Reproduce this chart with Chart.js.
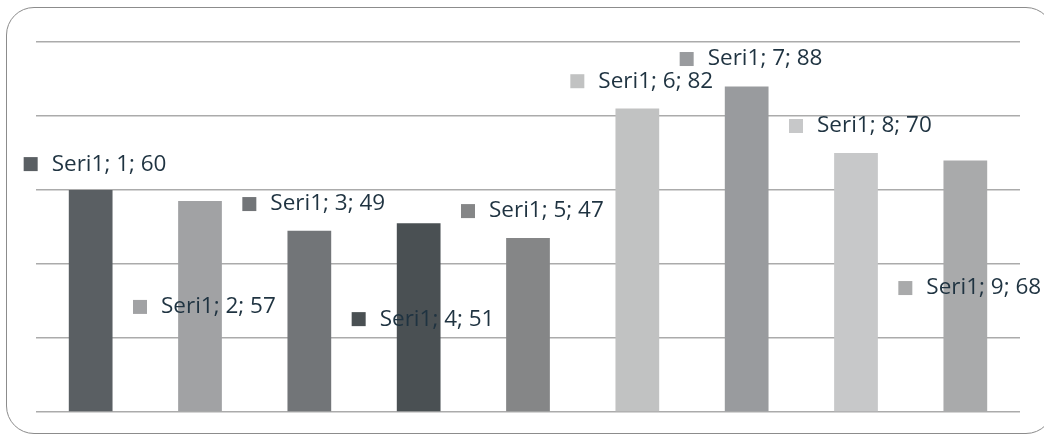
<!DOCTYPE html>
<html>
<head>
<meta charset="utf-8">
<script src="https://cdn.jsdelivr.net/npm/chart.js@4/dist/chart.umd.min.js"></script>
<style>
  html, body { margin: 0; padding: 0; background: #ffffff; }
  #wrap { position: relative; width: 1044px; height: 435px; overflow: hidden; }
  #frame { position: absolute; left: 6px; top: 7px; width: 1048px; height: 427px;
           border: 1px solid #8c8c8c; border-radius: 28px; box-sizing: border-box; }
  canvas { position: absolute; left: 0; top: 0; }
</style>
</head>
<body>
<div id="wrap">
  <div id="frame"></div>
  <canvas id="c" width="1044" height="435"></canvas>
</div>
<script>
const seriesName = "Seri1";
const categories = ["1", "2", "3", "4", "5", "6", "7", "8", "9"];
const values = [60, 57, 49, 51, 47, 82, 88, 70, 68];
const barColors = ["#5a5f63", "#a1a2a4", "#727578", "#4a5053", "#858687", "#c1c2c2", "#999b9e", "#c7c8c9", "#a9aaab"];
// vertical anchor of each data label, in axis units (labels are placed loosely as in the original)
const labelLevels = [67.0, 28.4, 56.2, 25.1, 54.3, 89.4, 95.4, 77.3, 33.5];

const labelPlugin = {
  id: 'looseLabels',
  afterDatasetsDraw(chart) {
    const ctx = chart.ctx;
    const meta = chart.getDatasetMeta(0);
    const y = chart.scales.y;
    ctx.save();
    ctx.font = '22.5px "Open Sans", sans-serif';
    ctx.textBaseline = 'middle';
    ctx.textAlign = 'left';
    meta.data.forEach((bar, i) => {
      const cy = y.getPixelForValue(labelLevels[i]);
      const sx = bar.x - 67;
      ctx.fillStyle = barColors[i];
      ctx.fillRect(sx, cy - 7, 14, 14);
      ctx.fillStyle = '#1f3341';
      ctx.fillText(seriesName + '; ' + categories[i] + '; ' + values[i], sx + 28, cy);
    });
    ctx.restore();
  }
};

new Chart(document.getElementById('c'), {
  type: 'bar',
  data: {
    labels: categories,
    datasets: [{
      label: seriesName,
      data: values,
      backgroundColor: barColors,
      borderWidth: 0,
      categoryPercentage: 1.0,
      barPercentage: 0.4
    }]
  },
  options: {
    responsive: false,
    animation: false,
    layout: { padding: { left: 36, right: 24, top: 42, bottom: 23 } },
    plugins: { legend: { display: false }, tooltip: { enabled: false } },
    scales: {
      x: { display: false },
      y: {
        min: 0, max: 100,
        ticks: { display: false, stepSize: 20 },
        grid: { color: '#ababab', lineWidth: 1.5, drawTicks: false },
        border: { display: false }
      }
    }
  },
  plugins: [labelPlugin]
});
</script>
</body>
</html>
